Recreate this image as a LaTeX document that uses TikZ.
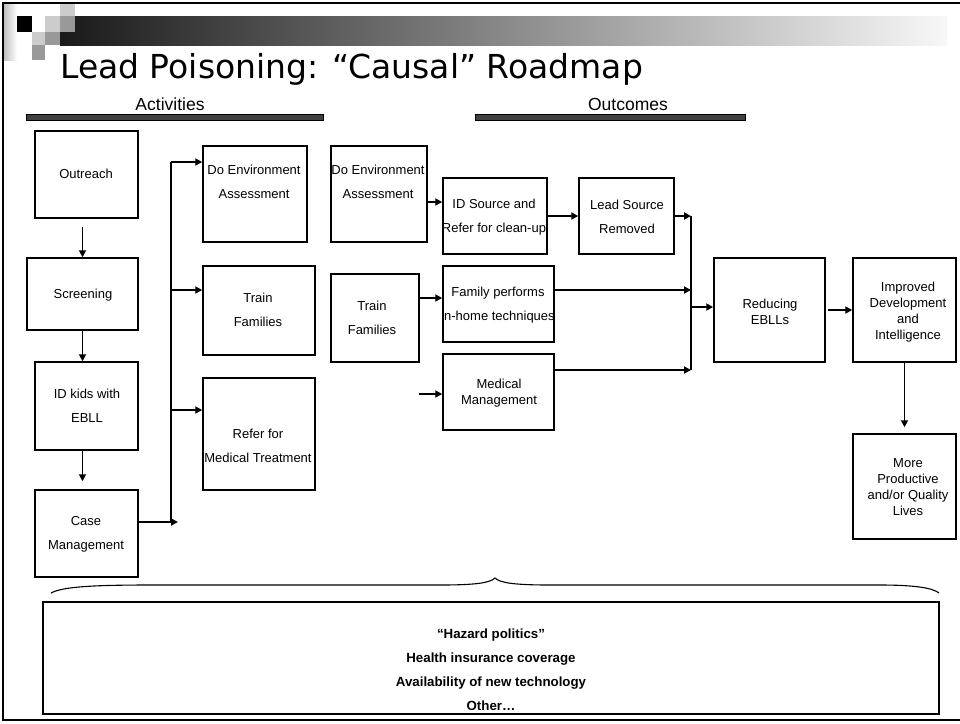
\documentclass[tikz,border=0pt]{standalone}
\usepackage{fontspec}
\setmainfont{Liberation Sans}
\newfontfamily\titlefont{DejaVu Sans}
\usetikzlibrary{arrows.meta,fit}

\tikzset{
  box/.style={draw, line width=1.5pt, inner sep=0pt},
  lbl/.style={font=\fontsize{13}{16}\selectfont, align=center, inner sep=0pt},
  lblw/.style={font=\fontsize{13}{24}\selectfont, align=center, inner sep=0pt},
  arr/.style={line width=1.8pt, -{Triangle[length=7pt,width=7pt]}},
  trunk/.style={line width=2.2pt},
  headbar/.style={fill=black!75, draw=black, line width=0.8pt},
}

\begin{document}
\begin{tikzpicture}[x=1pt,y=-1pt]
\useasboundingbox (0,0) rectangle (960,723);

% slide header: gradient band and tiled squares
\shade[left color=black!90, right color=black!3] (60,16) rectangle (947,45);
\shade[left color=black!25, right color=white] (4,4) rectangle (17,60);
\fill[black]   (17,16) rectangle (32,32);
\fill[white]   (32,16) rectangle (45,32);
\fill[black!20] (45,16) rectangle (60,32);
\fill[black!40] (60,16) rectangle (75,32);
\fill[black!20] (60,4) rectangle (75,16);
\fill[black!20] (32,32) rectangle (45,45);
\fill[black!40] (45,32) rectangle (60,45);
\fill[black!40] (32,45) rectangle (45,60);

% slide frame
\draw[line width=2.5pt] (960,3) -- (3,3) -- (3,720) -- (960,720);

% title
\node[anchor=base west, inner sep=0pt, font=\titlefont\fontsize{33}{36}\selectfont] (title) at (60,78)
  {Lead Poisoning: “Causal” Roadmap};

% column headings
\node[font=\fontsize{17.5}{19}\selectfont, inner sep=0pt] (acthead) at (170,104) {Activities};
\node[font=\fontsize{17.5}{19}\selectfont, inner sep=0pt] (outhead) at (628,104) {Outcomes};
\draw[headbar] (26,114) rectangle (323,120);
\draw[headbar] (475,114) rectangle (745,120);

% activity chain
\node[box, fit={(35,131) (138,218)}] (outreach) {};
\node[box, fit={(27,258) (138,330)}] (screening) {};
\node[box, fit={(35,362) (138,450)}] (idkids) {};
\node[box, fit={(35,490) (138,577)}] (casemgmt) {};
\node[lbl] (t-outreach) at (86,174) {Outreach};
\node[lbl] (t-screening) at (83,295) {Screening};
\node[lblw] (t-idkids) at (87,406) {ID kids with\\EBLL};
\node[lblw] (t-case) at (86,534) {Case\\Management};

\draw[arr] ([yshift=-8pt]outreach.south -| screening.north) -- (screening.north);
\draw[arr] (screening.south) -- (screening.south |- idkids.north);
\draw[arr] (idkids.south -| screening.south) -- ([yshift=8pt]casemgmt.north -| screening.south);

% activities fed by case management
\node[box, fit={(203,146) (307,242)}] (envA) {};
\node[box, fit={(203,266) (315,355)}] (trainA) {};
\node[box, fit={(203,378) (315,490)}] (referA) {};
\node[lblw] (t-envA) at (254,182) {Do Environment\\Assessment};
\node[lblw] (t-trainA) at (258,310) {Train\\Families};
\node[lblw] (t-referA) at (258,446) {Refer for\\Medical Treatment};

\coordinate (trunkTop) at (171,162);
\coordinate (trunkMid) at (171,290);
\coordinate (trunkLow) at (171,410);
\coordinate (trunkBot) at (171,522);
\draw[trunk] (trunkTop) -- (trunkBot);
\draw[arr] (casemgmt.east |- trunkBot) -- ([xshift=7pt]trunkBot);
\draw[arr] (trunkTop) -- (trunkTop -| envA.west);
\draw[arr] (trunkMid) -- (trunkMid -| trainA.west);
\draw[arr] (trunkLow) -- (trunkLow -| referA.west);

% outcomes
\node[box, fit={(331,146) (427,242)}] (envO) {};
\node[box, fit={(331,274) (419,362)}] (trainO) {};
\node[lblw] (t-envO) at (378,182) {Do Environment\\Assessment};
\node[lblw] (t-trainO) at (372,318) {Train\\Families};

\node[box, fit={(443,178) (547,254)}] (idsource) {};
\node[box, fit={(443,266) (554,342)}] (family) {};
\node[box, fit={(443,354) (554,430)}] (medical) {};
\node[box, fit={(579,178) (674,254)}] (leadsrc) {};
\node[lblw] (t-idsource) at (494,217) {ID Source and\\Refer for clean-up};
\node[lblw] (t-family) at (498,305) {Family performs\\in-home techniques};
\node[lbl] (t-medical) at (499,393) {Medical\\Management};
\node[lblw] (t-leadsrc) at (627,217) {Lead Source\\Removed};

\coordinate (medIn) at (419,394);
\draw[arr] (envO.east |- 0,202) -- (idsource.west |- 0,202);
\draw[arr] (trainO.east |- 0,298) -- (family.west |- 0,298);
\draw[arr] (medIn) -- (medIn -| medical.west);
\draw[arr] (idsource.east) -- (leadsrc.west);

% collector into the final outcomes
\coordinate (colTop) at (691,216);
\coordinate (colFam) at (691,290);
\coordinate (colMid) at (691,307);
\coordinate (colBot) at (691,370);
\draw[trunk] (colTop) -- (colBot);
\draw[arr] (leadsrc.east) -- (colTop);
\draw[arr] (family.east |- colFam) -- (colFam);
\draw[arr] (medical.east |- colBot) -- (colBot);

\node[box, fit={(714,258) (825,362)}] (reducing) {};
\node[box, fit={(853,258) (956,362)}] (improved) {};
\node[box, fit={(853,434) (956,539)}] (more) {};
\node[lbl] (t-reducing) at (770,312) {Reducing\\EBLLs};
\node[lbl] (t-improved) at (908,312) {Improved\\Development\\and\\Intelligence};
\node[lbl] (t-more) at (908,487) {More\\Productive\\and/or Quality\\Lives};

\draw[arr] (colMid) -- (colMid -| reducing.west);
\draw[arr] ([xshift=2pt]reducing.east) -- (improved.west);
\draw[arr] (improved.south) -- ([yshift=6pt]more.north);

% contextual factors under a brace
\draw[line width=1.1pt] (51,593) .. controls (62,587) and (90,585) .. (150,585)
  -- (440,585) .. controls (475,585) and (490,583) .. (495,578)
  .. controls (500,583) and (515,585) .. (550,585)
  -- (880,585) .. controls (915,585) and (933,588) .. (939,593);
\node[box, fit={(43,602) (939,714)}] (context) {};
\node[font=\bfseries\fontsize{13.3}{24}\selectfont, align=center, inner sep=0pt] (t-context) at (491,670)
  {“Hazard politics”\\Health insurance coverage\\Availability of new technology\\Other…};
\end{tikzpicture}
\end{document}
